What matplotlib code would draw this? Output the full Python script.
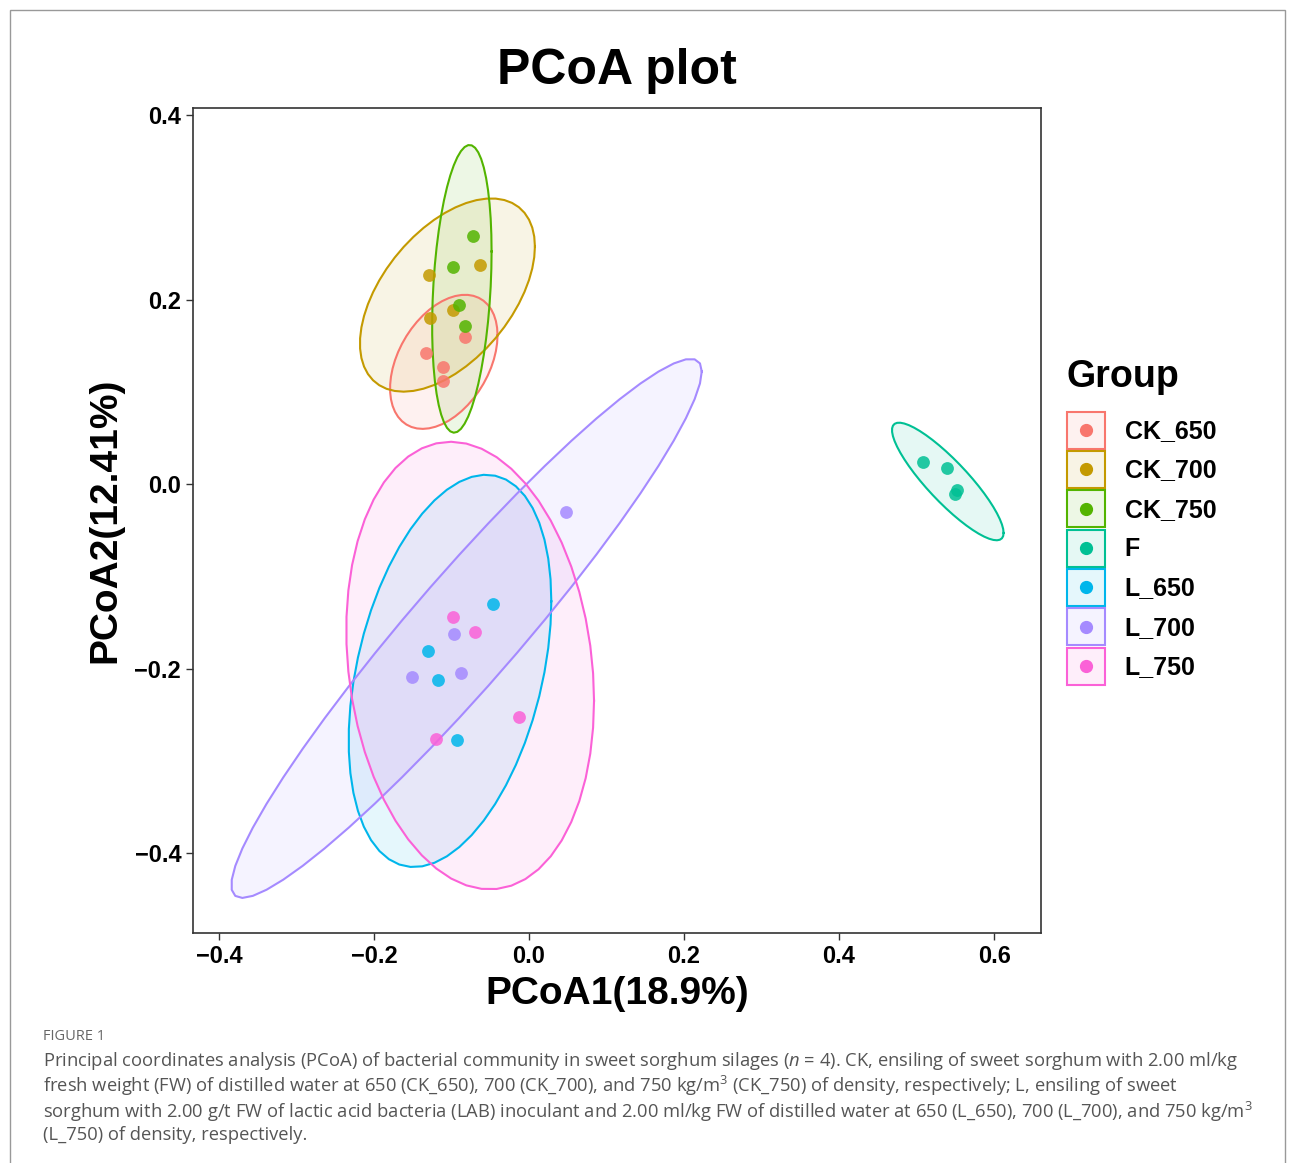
import matplotlib
matplotlib.use("Agg")
import matplotlib.pyplot as plt
import numpy as np
from matplotlib.patches import Rectangle, Patch
from matplotlib.lines import Line2D

plt.rcParams['font.family'] = ['Liberation Sans', 'DejaVu Sans']
plt.rcParams['mathtext.fontset'] = 'custom'
plt.rcParams['mathtext.rm'] = 'Open Sans'
plt.rcParams['mathtext.it'] = 'Open Sans:italic'

groups = ["CK_650", "CK_700", "CK_750", "F", "L_650", "L_700", "L_750"]
colors = ["#F8766D", "#C49A00", "#53B400", "#00C094", "#00B6EB", "#A58AFF", "#FB61D7"]

# PCoA scores, 4 samples per group
pc1 = {
    "CK_650": [-0.083, -0.133, -0.111, -0.111],
    "CK_700": [-0.129, -0.063, -0.098, -0.128],
    "CK_750": [-0.072, -0.098, -0.090, -0.083],
    "F":      [0.508, 0.539, 0.550, 0.552],
    "L_650":  [-0.046, -0.130, -0.117, -0.093],
    "L_700":  [0.048, -0.097, -0.151, -0.088],
    "L_750":  [-0.098, -0.070, -0.013, -0.120],
}
pc2 = {
    "CK_650": [0.159, 0.142, 0.127, 0.112],
    "CK_700": [0.227, 0.237, 0.189, 0.180],
    "CK_750": [0.269, 0.235, 0.194, 0.171],
    "F":      [0.024, 0.017, -0.011, -0.007],
    "L_650":  [-0.130, -0.181, -0.213, -0.278],
    "L_700":  [-0.030, -0.163, -0.209, -0.205],
    "L_750":  [-0.144, -0.160, -0.253, -0.276],
}

xticks = [-0.4, -0.2, 0.0, 0.2, 0.4, 0.6]
yticks = [-0.4, -0.2, 0.0, 0.2, 0.4]

caption = ("Principal coordinates analysis (PCoA) of bacterial community in sweet sorghum silages ($n$ = 4). CK, ensiling of sweet sorghum with 2.00 ml/kg\n"
           "fresh weight (FW) of distilled water at 650 (CK_650), 700 (CK_700), and 750 kg/m$^3$ (CK_750) of density, respectively; L, ensiling of sweet\n"
           "sorghum with 2.00 g/t FW of lactic acid bacteria (LAB) inoculant and 2.00 ml/kg FW of distilled water at 650 (L_650), 700 (L_700), and 750 kg/m$^3$\n"
           "(L_750) of density, respectively.")


def cov_trob(X, nu=5, maxit=25, tol=0.01):
    # same as MASS::cov.trob, what stat_ellipse(type="t") uses
    n, p = X.shape
    wt = np.ones(n)
    loc = X.mean(axis=0)
    w = np.sqrt(wt)
    for it in range(maxit):
        w0 = w
        Xc = X - loc
        _, d, vt = np.linalg.svd(np.sqrt(w / w.sum())[:, None] * Xc, full_matrices=False)
        wX = Xc @ vt.T @ np.diag(1 / d)
        Q = (wX ** 2).sum(axis=1)
        w = wt * (nu + p) / (nu + Q)
        loc = (w[:, None] * X).sum(axis=0) / w.sum()
        if np.all(np.abs(w - w0) < tol):
            break
    sw = np.sqrt(w)[:, None] * Xc
    return sw.T @ sw / wt.sum(), loc


def ellipse(x, y, level=0.95, segments=51):
    X = np.column_stack([x, y])
    shape, center = cov_trob(X)
    dfd = len(x) - 1
    fq = dfd / 2 * ((1 - level) ** (-2 / dfd) - 1)  # qf(level, 2, dfd)
    radius = np.sqrt(2 * fq)
    R = np.linalg.cholesky(shape).T
    ang = np.linspace(0, 2 * np.pi, segments + 1)
    circ = np.column_stack([np.cos(ang), np.sin(ang)])
    return center + radius * circ @ R


class KeyHandler:
    # ggplot style key: light filled box with a dot in the middle
    def legend_artist(self, legend, orig_handle, fontsize, handlebox):
        c = orig_handle.get_edgecolor()
        x0, y0 = handlebox.xdescent, handlebox.ydescent
        w, h = handlebox.width, handlebox.height
        box = Rectangle((-x0, -y0), w, h, facecolor=(c[0], c[1], c[2], 0.1),
                        edgecolor=c, lw=1.5, transform=handlebox.get_transform())
        dot = Line2D([w / 2 - x0], [h / 2 - y0], marker="o", ls="", color=c,
                     markersize=8.5, transform=handlebox.get_transform())
        handlebox.add_artist(box)
        handlebox.add_artist(dot)
        return box


fig = plt.figure(figsize=(12.95, 11.63), dpi=100)
ax = fig.add_axes([0.149, 0.1978, 0.6549, 0.7093])

for g, c in zip(groups, colors):
    e = ellipse(np.array(pc1[g]), np.array(pc2[g]))
    ax.fill(e[:, 0], e[:, 1], color=c, alpha=0.1, lw=0)
    ax.plot(e[:, 0], e[:, 1], color=c, lw=1.5)
for g, c in zip(groups, colors):
    ax.scatter(pc1[g], pc2[g], s=85, color=c, alpha=0.85, lw=0, zorder=3)

ax.set_xlim(-0.4335, 0.6606)
ax.set_ylim(-0.4867, 0.4076)
ax.set_xticks(xticks)
ax.set_yticks(yticks)
ax.set_xticklabels([f"{t:.1f}".replace("-", "\u2212") for t in xticks])
ax.set_yticklabels([f"{t:.1f}".replace("-", "\u2212") for t in yticks])
ax.tick_params(labelsize=17, length=5, width=1, color="#333333")
for lab in ax.get_xticklabels() + ax.get_yticklabels():
    lab.set_fontweight("bold")
for s in ax.spines.values():
    s.set_color("#333333")
    s.set_linewidth(1.2)

ax.set_xlabel("PCoA1(18.9%)", fontsize=28, fontweight="bold", labelpad=6)
ax.set_ylabel("PCoA2(12.41%)", fontsize=28, fontweight="bold", labelpad=8)
ax.set_title("PCoA plot", fontsize=36, fontweight="bold", pad=17)

handles = [Patch(edgecolor=c) for c in colors]
leg = ax.legend(handles, groups, handler_map={Patch: KeyHandler()},
                title="Group", loc="upper left",
                bbox_to_anchor=(1067 / 1295, 1 - 359 / 1163), bbox_transform=fig.transFigure,
                frameon=False, prop={"size": 18, "weight": "bold"},
                title_fontproperties={"size": 27, "weight": "bold"},
                handlelength=1.5, handleheight=1.89, labelspacing=0.1,
                handletextpad=0.8, borderaxespad=0, borderpad=0)
leg._legend_box.align = "left"
leg._legend_box.sep = 12

fig.text(43 / 1295, 1 - 1037 / 1163, "FIGURE 1", fontsize=10.5, color="#666666",
         family="Open Sans", va="center")
fig.text(43 / 1295, 1 - 1050 / 1163, caption, fontsize=13.2, color="#555555",
         family="Open Sans", va="top", linespacing=1.11)

fig.patches.append(Rectangle((10 / 1295, -0.05), 1275 / 1295, 1.05 - 10 / 1163,
                             transform=fig.transFigure, fill=False,
                             edgecolor="#999999", lw=1))

fig.savefig("out.png", dpi=100)
